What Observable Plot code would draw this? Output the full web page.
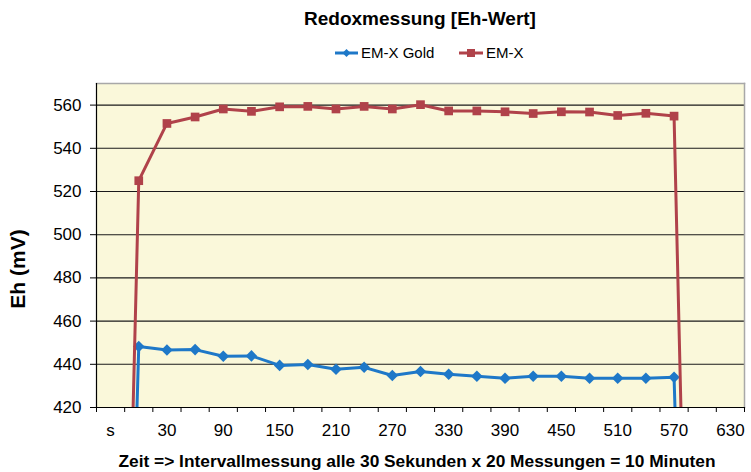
<!DOCTYPE html>
<html>
<head>
<meta charset="utf-8">
<script src="https://cdn.jsdelivr.net/npm/d3@7"></script>
<script src="https://cdn.jsdelivr.net/npm/@observablehq/plot@0.6"></script>
<style>
  html, body { margin: 0; padding: 0; background: #fff; }
  #chart { width: 751px; height: 472px; }
</style>
</head>
<body>
<div id="chart"></div>
<script>
// ---- data ----
const categories = ["s","0","30","60","90","120","150","180","210","240","270","300","330","360","390","420","450","480","510","540","570","600","630"];
const emxGold = [0, 448.2, 446.6, 446.8, 443.7, 443.9, 439.5, 439.9, 437.7, 438.6, 434.8, 436.7, 435.4, 434.5, 433.5, 434.5, 434.5, 433.5, 433.5, 433.5, 434, 0, null];
const emx     = [0, 525, 551.5, 554.5, 558.2, 557.1, 559.2, 559.4, 558.2, 559.4, 558.2, 560.2, 557.3, 557.3, 556.9, 556.1, 556.9, 556.8, 555.2, 556.2, 554.9, 0, null];
const yTicks = [420, 440, 460, 480, 500, 520, 540, 560];
const seriesNames = ["EM-X Gold", "EM-X"];
const titleText = "Redoxmessung [Eh-Wert]";
const yLabel = "Eh (mV)";
const xLabel = "Zeit => Intervallmessung alle 30 Sekunden x 20 Messungen = 10 Minuten";

const BLUE = "#1E78C8";
const RED = "#B0424A";
const FONT = "'Liberation Sans', Arial, sans-serif";

const rows = categories.map((c, i) => ({i, c, gold: emxGold[i], emx: emx[i]}));
const labelIdx = categories.map((c, i) => i).filter(i => i % 2 === 0);
const boundaries = d3.range(-0.5, categories.length, 1);

const yMin = 420, yMax = 570;

const svg = Plot.plot({
  width: 751,
  height: 472,
  marginTop: 83,
  marginBottom: 65,
  marginLeft: 96,
  marginRight: 7,
  style: {fontFamily: FONT, fontSize: "17px", color: "#000", background: "#fff", overflow: "visible"},
  x: {type: "linear", domain: [-0.5, categories.length - 0.5]},
  y: {domain: [yMin, yMax]},
  marks: [
    Plot.frame({fill: "#FAF8DA", stroke: null}),
    Plot.ruleY(yTicks.filter(v => v > yMin), {stroke: "#1a1a1a", strokeWidth: 1.1}),
    Plot.frame({anchor: "top", stroke: "#A8A8A8", strokeWidth: 1.5}),
    Plot.frame({anchor: "right", stroke: "#A8A8A8", strokeWidth: 1.5}),
    Plot.axisY({ticks: yTicks, tickSize: 6, tickPadding: 9, label: null, fontSize: 17}),
    Plot.axisX({ticks: boundaries, tickSize: 5, tickFormat: () => "", label: null}),
    Plot.axisX({ticks: labelIdx, tickSize: 0, tickPadding: 16, tickFormat: i => categories[i], label: null, fontSize: 17}),
    Plot.line(rows, {x: "i", y: "gold", stroke: BLUE, strokeWidth: 3, clip: true}),
    Plot.dot(rows.filter(d => d.gold != null && d.gold > yMin), {x: "i", y: "gold", symbol: "square", rotate: 45, r: 4.6, fill: BLUE, stroke: null}),
    Plot.line(rows, {x: "i", y: "emx", stroke: RED, strokeWidth: 3, clip: true}),
    Plot.dot(rows.filter(d => d.emx != null && d.emx > yMin), {x: "i", y: "emx", symbol: "square", r: 4.9, fill: RED, stroke: null}),
    Plot.frame({anchor: "left", stroke: "#000", strokeWidth: 1.2}),
    Plot.frame({anchor: "bottom", stroke: "#000", strokeWidth: 1.2})
  ]
});

const s = d3.select(svg);
// Title
s.append("text").attr("x", 420).attr("y", 25).attr("text-anchor", "middle")
  .attr("font-family", FONT).attr("font-weight", "bold").attr("font-size", 19).attr("fill", "#000")
  .text(titleText);
// Legend
const lg = s.append("g").attr("font-family", FONT).attr("font-size", 15).attr("fill", "#000").attr("text-anchor", "start");
lg.append("line").attr("x1", 335).attr("x2", 358).attr("y1", 53).attr("y2", 53).attr("stroke", BLUE).attr("stroke-width", 3);
lg.append("path").attr("d", d3.symbol(d3.symbolSquare, 32)()).attr("transform", "translate(346.5,53) rotate(45)").attr("fill", BLUE);
lg.append("text").attr("x", 361).attr("y", 58).attr("text-anchor", "start").text(seriesNames[0]);
lg.append("line").attr("x1", 459).attr("x2", 483).attr("y1", 53).attr("y2", 53).attr("stroke", RED).attr("stroke-width", 3);
lg.append("path").attr("d", d3.symbol(d3.symbolSquare, 64)()).attr("transform", "translate(471,53)").attr("fill", RED);
lg.append("text").attr("x", 486).attr("y", 58).attr("text-anchor", "start").text(seriesNames[1]);
// Y label
s.append("text").attr("transform", "translate(25,269) rotate(-90)").attr("text-anchor", "middle")
  .attr("font-family", FONT).attr("font-weight", "bold").attr("font-size", 21).attr("fill", "#000")
  .text(yLabel);
// X label
s.append("text").attr("x", 417).attr("y", 467).attr("text-anchor", "middle")
  .attr("font-family", FONT).attr("font-weight", "bold").attr("font-size", 16).attr("fill", "#000")
  .attr("textLength", 597).attr("lengthAdjust", "spacingAndGlyphs")
  .text(xLabel);

document.getElementById("chart").appendChild(svg);
</script>
</body>
</html>
